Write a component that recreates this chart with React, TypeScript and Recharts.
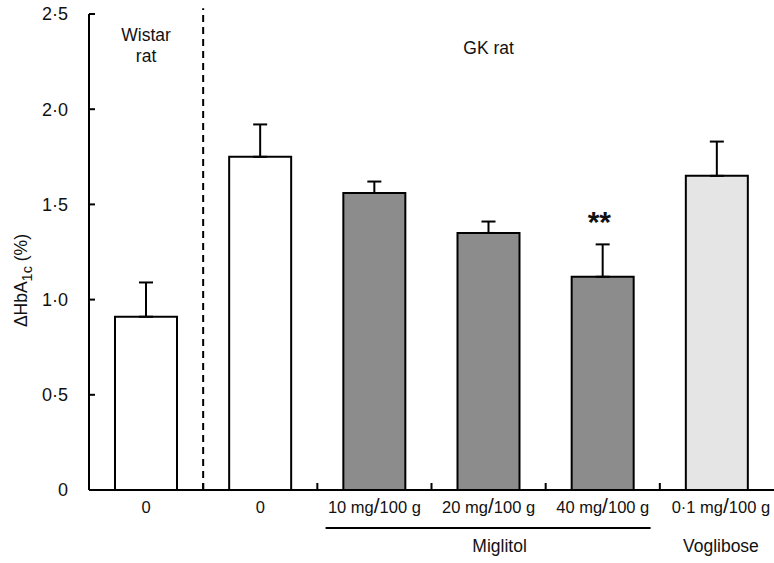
import React from 'react';
import { BarChart, Bar, XAxis, YAxis, Cell, ErrorBar, ReferenceLine, ReferenceDot } from 'recharts';

const categories = ['Wistar 0', 'GK 0', 'Miglitol 10', 'Miglitol 20', 'Miglitol 40', 'Voglibose 0.1'];
const positions = [0.5, 1.5, 2.5, 3.5, 4.5, 5.5];
const values = [0.91, 1.75, 1.56, 1.35, 1.12, 1.65];
const errors = [0.18, 0.17, 0.06, 0.06, 0.17, 0.18];
const fills = ['#ffffff', '#ffffff', '#8c8c8c', '#8c8c8c', '#8c8c8c', '#e5e5e5'];
const doseLabels = ['0', '0', '10 mg/100 g', '20 mg/100 g', '40 mg/100 g', '0·1 mg/100 g'];
const yTicks = [0, 0.5, 1, 1.5, 2, 2.5];
const yTickLabels = ['0', '0·5', '1·0', '1·5', '2·0', '2·5'];
const boundaryTicks = [0, 0.5, 1, 1.5, 2, 2.5, 3, 3.5, 4, 4.5, 5, 5.5, 6];

const data = categories.map((name, i) => ({
  name,
  pos: positions[i],
  value: values[i],
  err: [0, errors[i]],
}));

const FONT = '"Liberation Sans", Arial, Helvetica, sans-serif';

const YTick = (props: any) => {
  const { x, y, payload } = props;
  const idx = yTicks.indexOf(payload.value);
  return (
    <g>
      {payload.value > 0 && (
        <line x1={x} x2={x + 6} y1={y} y2={y} stroke="#000" strokeWidth={2} />
      )}
      <text x={x - 21} y={y} dy="0.36em" textAnchor="end" fontFamily={FONT} fontSize={18} fill="#111">
        {idx >= 0 ? yTickLabels[idx] : ''}
      </text>
    </g>
  );
};

const DoseText = ({ x, y, label }: { x: number; y: number; label: string }) => {
  const parts = label.split('/');
  return (
    <text x={x} y={y} textAnchor="middle" fontFamily={FONT} fontSize={16.5} fill="#111">
      {parts.length === 2 ? (
        <>
          <tspan>{parts[0]}</tspan>
          <tspan fontSize={21}>/</tspan>
          <tspan>{parts[1]}</tspan>
        </>
      ) : (
        label
      )}
    </text>
  );
};

const XTick = (props: any) => {
  const { x, y, payload } = props;
  const v = payload.value as number;
  if (Number.isInteger(v)) {
    if (v <= 0 || v >= 6) return <g />;
    return <line x1={x} x2={x} y1={y} y2={y - 7} stroke="#000" strokeWidth={2} />;
  }
  const idx = Math.floor(v);
  return (
    <g>
      <DoseText x={idx === 5 ? x + 4 : x} y={y + 23} label={doseLabels[idx]} />
      {idx === 3 && (
        <>
          <line x1={x - 163} x2={x + 162} y1={y + 38} y2={y + 38} stroke="#000" strokeWidth={2} />
          <text x={x + 11} y={y + 62} textAnchor="middle" fontFamily={FONT} fontSize={17.5} fill="#111">
            Miglitol
          </text>
        </>
      )}
      {idx === 5 && (
        <text x={x + 4} y={y + 62} textAnchor="middle" fontFamily={FONT} fontSize={17.5} fill="#111">
          Voglibose
        </text>
      )}
    </g>
  );
};

const YLabel = (props: any) => {
  const vb = props.viewBox || { x: 0, y: 14, width: 89, height: 476 };
  const cx = 21;
  const cy = vb.y + vb.height * 0.56;
  return (
    <text
      x={cx}
      y={cy}
      transform={`rotate(-90 ${cx} ${cy})`}
      textAnchor="middle"
      dy="0.35em"
      fontFamily={FONT}
      fontSize={17.5}
      fill="#111"
    >
      <tspan>ΔHbA</tspan>
      <tspan fontSize={14.5} dy={5}>1c</tspan>
      <tspan dy={-5}> (%)</tspan>
    </text>
  );
};

const textLabel = (value: string, size = 17.5, weight: any = 'normal') => ({
  value,
  position: 'center' as const,
  fontFamily: FONT,
  fontSize: size,
  fontWeight: weight,
  fill: '#111',
});

export default function App() {
  return (
    <div style={{ position: 'absolute', left: 0, top: 0, width: 774, height: 563, background: '#fff' }}>
      <BarChart
        width={774}
        height={563}
        data={data}
        margin={{ top: 14, right: 0, bottom: 0, left: 0 }}
      >
        <XAxis
          dataKey="pos"
          type="number"
          domain={[0, 6]}
          ticks={boundaryTicks}
          interval={0}
          allowDataOverflow
          height={73}
          tickSize={0}
          tickMargin={0}
          tickLine={false}
          axisLine={{ stroke: '#000', strokeWidth: 2 }}
          tick={<XTick />}
        />
        <YAxis
          width={89}
          domain={[0, 2.5]}
          ticks={yTicks}
          interval={0}
          tickSize={0}
          tickMargin={0}
          tickLine={false}
          axisLine={{ stroke: '#000', strokeWidth: 2 }}
          tick={<YTick />}
          label={{ content: <YLabel /> }}
        />
        <ReferenceLine
          segment={[{ x: 1, y: 0 }, { x: 1, y: 2.53 }]}
          ifOverflow="visible"
          stroke="#000"
          strokeWidth={2}
          strokeDasharray="7 5"
        />
        <Bar dataKey="value" barSize={62} stroke="#000" strokeWidth={2} isAnimationActive={false}>
          {data.map((d, i) => (
            <Cell key={d.name} fill={fills[i]} />
          ))}
          <ErrorBar dataKey="err" direction="y" width={7} stroke="#000" strokeWidth={2} isAnimationActive={false} />
        </Bar>
        <ReferenceDot x={0.5} y={2.39} r={1} fill="none" stroke="none" label={textLabel('Wistar')} />
        <ReferenceDot x={0.5} y={2.28} r={1} fill="none" stroke="none" label={textLabel('rat')} />
        <ReferenceDot x={3.5} y={2.325} r={1} fill="none" stroke="none" label={textLabel('GK rat')} />
        <ReferenceDot x={4.47} y={1.41} r={1} fill="none" stroke="none" label={textLabel('**', 30, 'bold')} />
      </BarChart>
    </div>
  );
}
